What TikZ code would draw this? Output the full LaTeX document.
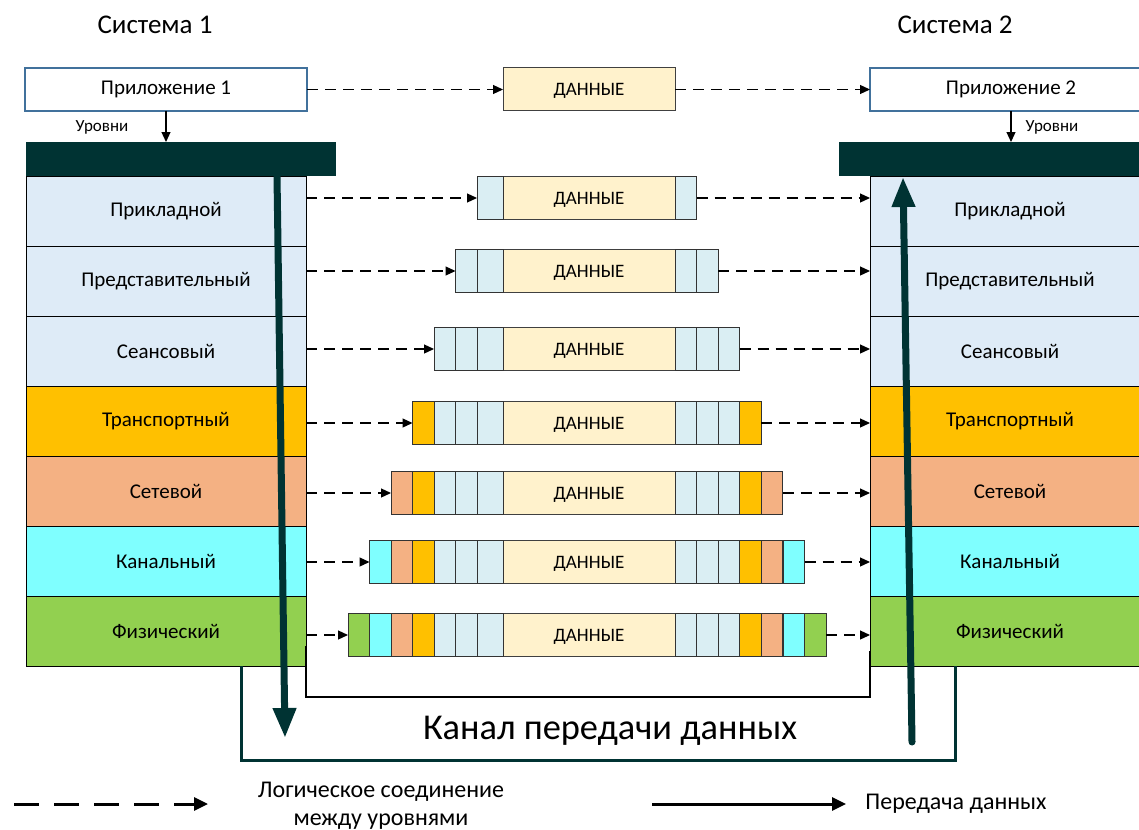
\documentclass[tikz,border=0pt]{standalone}
\usepackage{fontspec}
\setmainfont{Carlito}
\usepackage{tikz}
\usetikzlibrary{calc,positioning,arrows.meta}
\definecolor{dark}{HTML}{003333}
\definecolor{appline}{HTML}{41719C}
\definecolor{datafill}{HTML}{FFF2CC}
\definecolor{lay1}{HTML}{DEEBF7}
\definecolor{lay2}{HTML}{DEEBF7}
\definecolor{lay3}{HTML}{DEEBF7}
\definecolor{lay4}{HTML}{FFC000}
\definecolor{lay5}{HTML}{F4B183}
\definecolor{lay6}{HTML}{7FFFFF}
\definecolor{lay7}{HTML}{92D050}
\definecolor{hdr1}{HTML}{DAEEF3}
\definecolor{hdr2}{HTML}{DAEEF3}
\definecolor{hdr3}{HTML}{DAEEF3}
\colorlet{hdr4}{lay4}
\colorlet{hdr5}{lay5}
\colorlet{hdr6}{lay6}
\colorlet{hdr7}{lay7}
\def\fs#1{\fontsize{#1}{#1}\selectfont}

\begin{document}
\begin{tikzpicture}[x=0.5pt,y=-0.5pt,
	layer/.style={draw=black, line width=0.5pt, minimum width=140pt, minimum height=35pt, inner sep=0pt, outer sep=0pt, font=\fs{10.5}},
	appbox/.style={draw=appline, line width=0.6pt, fill=white, minimum width=141pt, minimum height=21.5pt, inner sep=0pt, outer sep=0pt, font=\fs{10.5}},
	bar/.style={fill=dark, minimum width=155pt, minimum height=17pt, inner sep=0pt, outer sep=0pt},
	datacell/.style={draw=black!75, line width=0.5pt, fill=datafill, minimum width=86pt, minimum height=21.75pt, inner sep=0pt, outer sep=0pt, text height=6.5pt, text depth=0pt, font=\fs{9.5}},
	hcell/.style={draw=black!80, line width=0.5pt, minimum width=10.75pt, minimum height=21.75pt, inner sep=0pt, outer sep=0pt},
	logic/.style={line width=0.6pt, dash pattern=on 5.5pt off 3.5pt, -{Triangle[length=5pt,width=4.5pt]}},
	trans/.style={dark, line width=3.5pt, line cap=round, -{Triangle[length=15pt,width=11pt]}},
	channel/.style={dark, line width=1.5pt}]
	\useasboundingbox (0,0) rectangle (1139,829);

	\node[font=\fs{13.5}] (sys1) at (155,25) {Система 1};
	\node[font=\fs{13.5}] (sys2) at (955,25) {Система 2};

	\node[appbox] (app1) at (166,89.5) {Приложение 1};
	\node[appbox] (app2) at (1011,89.5) {Приложение 2};
	\node[datacell, minimum height=21.5pt] (d0) at (589,89.5) {ДАННЫЕ};
	\draw[logic] (app1.east) -- (d0.west);
	\draw[logic] (d0.east) -- (app2.west);

	\foreach \t [count=\i] in {Прикладной,Представительный,Сеансовый,Транспортный,Сетевой,Канальный,Физический}{
		\node[layer, fill=lay\i] (L\i) at (166,{141+70*\i}) {\t};
		\node[layer, fill=lay\i] (R\i) at (1010,{141+70*\i}) {\t};
	}

	\node[bar] (barL) at (181,159) {};
	\node[bar] (barR) at (994,159) {};
	\draw[-{Triangle[length=5pt,width=4.5pt]}, line width=0.6pt] (app1.south) -- (app1.south |- barL.north);
	\draw[-{Triangle[length=5pt,width=4.5pt]}, line width=0.6pt] (app2.south) -- (app2.south |- barR.north);
	\node[font=\fs{8.5}] (lvl1) at (102,127) {Уровни};
	\node[font=\fs{8.5}] (lvl2) at (1052,127) {Уровни};

	\foreach \i/\y in {1/198,2/271,3/349,4/423,5/493,6/562,7/635}{
		\node[datacell] (d\i) at (589,\y) {ДАННЫЕ};
		\foreach \k in {1,...,\i}{
			\pgfmathsetmacro\lw{\k==1 ? 13 : 10.75}
			\pgfmathsetmacro\lx{\k==1 ? 0 : -(4.5+(\k-1)*21.5)}
			\node[hcell, fill=hdr\k, anchor=east, minimum width=\lw pt] (pl\i-\k) at ($(d\i.west)+(\lx,0)$) {};
			\node[hcell, fill=hdr\k, anchor=west] (pr\i-\k) at ($(d\i.east)+({(\k-1)*21.6},0)$) {};
		}
		\draw[logic] (L\i.east |- d\i.west) -- (pl\i-\i.west);
		\draw[logic] (pr\i-\i.east) -- (R\i.west |- d\i.east);
	}

	\coordinate (u1) at ($(L7.south east)+(0,-20)$);
	\coordinate (u2) at ($(R7.south west)+(0,-15)$);
	\draw[line width=0.6pt] (u1) |- ($(u2)+(0,46)$) -- (u2);

	\coordinate (c1) at ($(L7.south)+(75,0)$);
	\coordinate (c2) at ($(R7.south)+(-55,0)$);
	\draw[channel] (c1) -- ++(0,94) -| (c2);

	\coordinate (down1) at (277,176);
	\coordinate (down2) at (285,738);
	\coordinate (up1) at (912,742);
	\coordinate (up2) at (903,177);
	\draw[trans] (down1) -- (down2);
	\draw[trans] (up1) -- (up2);

	\node[font=\fs{18.2}] (chan) at (610,731) {Канал передачи данных};

	\coordinate (lg1) at (14,804);
	\coordinate (lg2) at (208,804);
	\coordinate (lg3) at (652,804);
	\coordinate (lg4) at (846,804);
	\draw[line width=1.5pt, dash pattern=on 12.5pt off 7.5pt, -{Triangle[length=7pt,width=6.5pt]}] (lg1) -- (lg2);
	\draw[line width=1.5pt, -{Triangle[length=7pt,width=6.5pt]}] (lg3) -- (lg4);
	\node[font=\fs{12}, align=center] (lgt1) at (381,806) {Логическое соединение\\[2pt]между уровнями};
	\node[font=\fs{12}] (lgt2) at (956,804) {Передача данных};
\end{tikzpicture}
\end{document}
